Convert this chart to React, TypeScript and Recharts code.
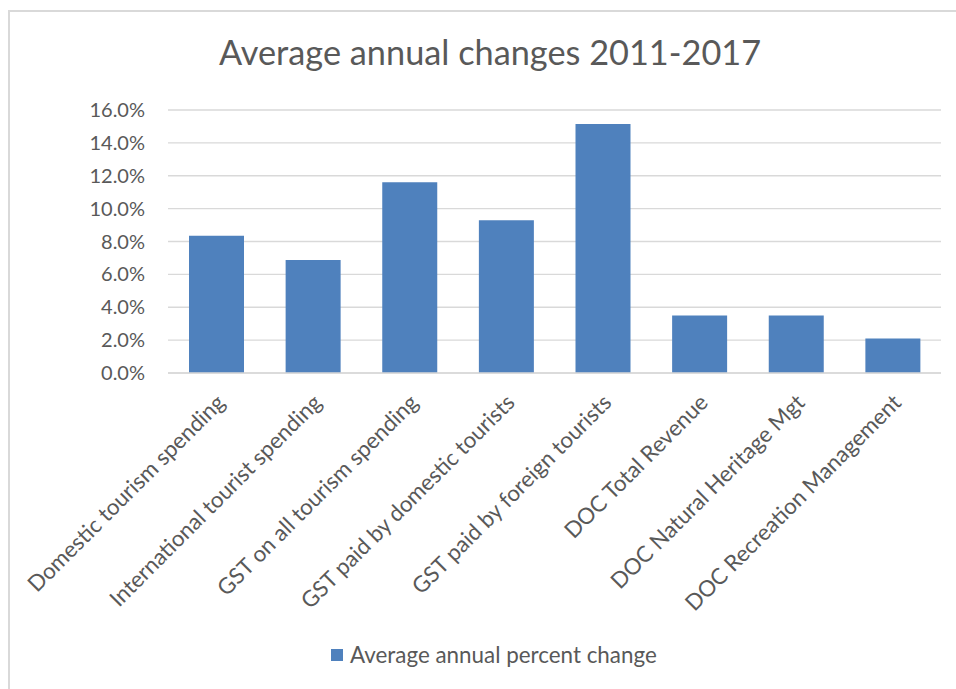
import { BarChart, Bar, XAxis, YAxis, CartesianGrid } from "recharts";

const categories = [
  "Domestic tourism spending",
  "International tourist spending",
  "GST on all tourism spending",
  "GST paid by domestic tourists",
  "GST paid by foreign tourists",
  "DOC Total Revenue",
  "DOC Natural Heritage Mgt",
  "DOC Recreation Management",
];
const changes = [8.35, 6.87, 11.6, 9.3, 15.15, 3.5, 3.5, 2.1];
const yTicks = [0, 2, 4, 6, 8, 10, 12, 14, 16];

const seriesName = "Average annual percent change";
const data = categories.map((name, i) => ({ name, value: changes[i] }));

const FONT = "Lato, 'Open Sans', sans-serif";
const TEXT = "#595959";
const BLUE = "#4f81bd";

// rotated category labels, ending just right of each bar's centre
function XTick({ x, payload }: any) {
  const ax = x + 10;
  const ay = 404;
  return (
    <text
      x={ax}
      y={ay}
      transform={`rotate(-45, ${ax}, ${ay})`}
      textAnchor="end"
      fontSize={22.3}
      fontFamily={FONT}
      fill={TEXT}
    >
      {payload.value}
    </text>
  );
}

export default function App() {
  return (
    <div style={{ position: "absolute", left: 0, top: 0, width: 956, height: 689, background: "#fff", overflow: "hidden" }}>
      <div style={{ position: "absolute", left: 8, top: 10, width: 1000, height: 800, border: "2px solid #d9d9d9", boxSizing: "border-box" }} />
      <div
        style={{
          position: "absolute",
          left: 0,
          top: 32,
          width: 980,
          textAlign: "center",
          fontFamily: FONT,
          fontSize: 34.3,
          lineHeight: "40px",
          color: TEXT,
        }}
      >
        Average annual changes 2011-2017
      </div>
      <div style={{ position: "absolute", left: 0, top: 0 }}>
        <BarChart width={956} height={689} data={data} margin={{ top: 110, right: 15, bottom: 0, left: 0 }}>
          <CartesianGrid vertical={false} stroke="#d9d9d9" strokeWidth={1.3} />
          <XAxis
            dataKey="name"
            height={316}
            interval={0}
            tickLine={false}
            axisLine={{ stroke: "#d9d9d9", strokeWidth: 1.3 }}
            tick={<XTick />}
          />
          <YAxis
            width={168}
            domain={[0, 16]}
            ticks={yTicks}
            tickLine={false}
            axisLine={false}
            tickMargin={17}
            tickFormatter={(v: number) => `${v.toFixed(1)}%`}
            tick={{ fontSize: 20, fontFamily: FONT, fill: TEXT }}
          />
          <Bar dataKey="value" name={seriesName} fill={BLUE} barSize={55} isAnimationActive={false} />
        </BarChart>
      </div>
      <div
        style={{
          position: "absolute",
          left: 331,
          top: 641,
          display: "flex",
          alignItems: "center",
          fontFamily: FONT,
          fontSize: 22.4,
          lineHeight: "28px",
          color: TEXT,
        }}
      >
        <span style={{ display: "inline-block", width: 12, height: 12, background: BLUE, marginRight: 7 }} />
        {seriesName}
      </div>
    </div>
  );
}
